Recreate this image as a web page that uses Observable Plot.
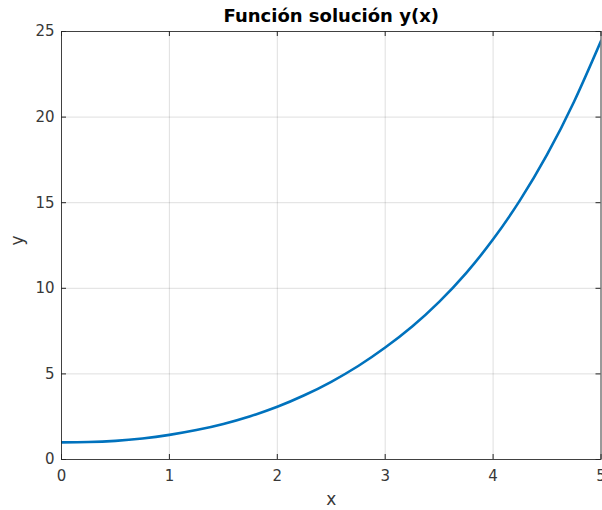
<!DOCTYPE html>
<html>
<head>
<meta charset="utf-8">
<script src="https://cdn.jsdelivr.net/npm/d3@7"></script>
<script src="https://cdn.jsdelivr.net/npm/@observablehq/plot@0.6"></script>
<style>
  html, body { margin: 0; padding: 0; background: #fff; }
</style>
</head>
<body>
<div id="chart"></div>
<script>
const xs = [0, 0.25, 0.5, 0.75, 1, 1.25, 1.5, 1.75, 2, 2.25, 2.5, 2.75, 3, 3.25, 3.5, 3.75, 4, 4.25, 4.5, 4.75, 5];
const ys = [1.00, 1.02, 1.09, 1.23, 1.44, 1.72, 2.08, 2.53, 3.08, 3.75, 4.54, 5.46, 6.54, 7.77, 9.21, 10.89, 12.86, 15.15, 17.81, 20.90, 24.45];
const xTicks = [0, 1, 2, 3, 4, 5];
const yTicks = [0, 5, 10, 15, 20, 25];
const titleText = "Función solución y(x)";
const xLabel = "x";
const yLabel = "y";

const data = xs.map((x, i) => ({x, y: ys[i]}));

const W = 602, H = 510;
const mt = 31, mb = 51, ml = 61, mr = 1.5;
const fh = H - mt - mb, fw = W - ml - mr;
const axisColor = "#262626";
const labelColor = "#383838";
const font = "DejaVu Sans, sans-serif";

const chart = Plot.plot({
  width: W, height: H,
  marginTop: mt, marginBottom: mb, marginLeft: ml, marginRight: mr,
  style: {fontFamily: font, background: "#fff", color: axisColor},
  x: {domain: [0, 5], ticks: xTicks},
  y: {domain: [0, 25], ticks: yTicks},
  marks: [
    Plot.gridX(xTicks, {stroke: axisColor, strokeOpacity: 0.15}),
    Plot.gridY(yTicks, {stroke: axisColor, strokeOpacity: 0.15}),
    Plot.line(data, {x: "x", y: "y", stroke: "#0072BD", strokeWidth: 2.6, curve: "natural", clip: true}),
    Plot.tickX(xTicks, {x: d => d, stroke: axisColor, insetTop: fh - 5}),
    Plot.tickX(xTicks, {x: d => d, stroke: axisColor, insetBottom: fh - 5}),
    Plot.tickY(yTicks, {y: d => d, stroke: axisColor, insetRight: fw - 5}),
    Plot.tickY(yTicks, {y: d => d, stroke: axisColor, insetLeft: fw - 5}),
    Plot.frame({stroke: axisColor, strokeOpacity: 0.85}),
    Plot.axisX(xTicks, {tickSize: 0, tickPadding: 11, fontSize: 15, fill: labelColor, label: null}),
    Plot.axisY(yTicks, {tickSize: 0, tickPadding: 7, fontSize: 15, fill: labelColor, label: null}),
    Plot.text([xLabel], {text: d => d, frameAnchor: "bottom", dy: 45, fontSize: 17, fill: labelColor}),
    Plot.text([yLabel], {text: d => d, frameAnchor: "left", dx: -44, rotate: -90, fontSize: 17, fill: labelColor}),
    Plot.text([titleText], {text: d => d, frameAnchor: "top", lineAnchor: "middle", dy: -15, fontSize: 18, fontWeight: "bold", fill: "#000"})
  ]
});
document.getElementById("chart").appendChild(chart);
</script>
</body>
</html>
